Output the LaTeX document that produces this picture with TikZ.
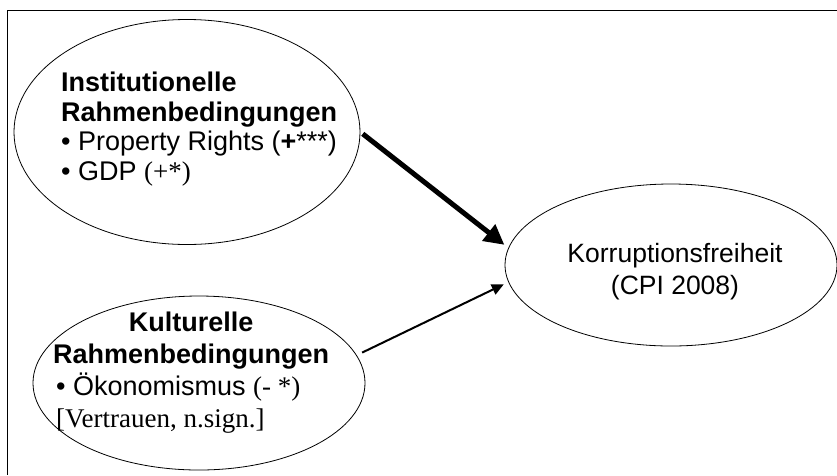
\documentclass[tikz,border=0pt]{standalone}
\usepackage{fontspec}
\setmainfont{Liberation Serif}
\setsansfont{Liberation Sans}
\usetikzlibrary{positioning,arrows.meta,shapes.geometric}

\begin{document}
\begin{tikzpicture}[
  x=1pt, y=-1pt,
  blob/.style={ellipse, draw, line width=0.8pt, inner sep=0pt},
  txt/.style={inner sep=0pt, font=\sffamily\fontsize{27}{29.5}\selectfont},
  strong/.style={line width=5pt, -{Triangle[length=20pt,width=20pt]}},
  weak/.style={line width=2pt, -{Triangle[length=12pt,width=11pt]}}
]
\useasboundingbox (0,0) rectangle (837,475);

% --- Rahmen ---
\draw[line width=1.5pt] (837,10.5) -- (7.5,10.5) -- (7.5,475);

% --- Ellipsen ---
\node[blob, minimum width=346pt, minimum height=225pt] (inst) at (187,132) {};
\node[blob, minimum width=332pt, minimum height=174pt] (kult) at (199,383) {};
\node[blob, minimum width=332pt, minimum height=162pt] (korr) at (671,265) {};

% --- Texte (base = letzte Zeile) ---
\node[txt, anchor=base west, align=left] (instTxt) at (61,180)
  {\textbf{Institutionelle}\\
   \textbf{Rahmenbedingungen}\\
   \textbullet\ Property Rights (\textbf{+}***)\\
   \textbullet\ GDP {\rmfamily(+*)}};
\node[txt, anchor=base west, align=left,
      font=\sffamily\fontsize{27}{32}\selectfont] (kultTxt) at (56,427)
  {\makebox[270pt]{\bfseries Kulturelle}\\
   \makebox[270pt]{\bfseries Rahmenbedingungen}\\
   \textbullet\ Ökonomismus {\rmfamily(- *)}\\
   {\rmfamily[Vertrauen, n.sign.]}};
\node[txt, align=center, font=\sffamily\fontsize{26.5}{32}\selectfont]
  (korrTxt) at (675,272) {Korruptionsfreiheit\\(CPI 2008)};

% --- Pfeile ---
\draw[strong, shorten <=3pt, shorten >=5pt] (inst.east) -- (korr.174);
\draw[weak, shorten <=6pt, shorten >=5pt] (kult.10) -- (korr.186);

\end{tikzpicture}
\end{document}
